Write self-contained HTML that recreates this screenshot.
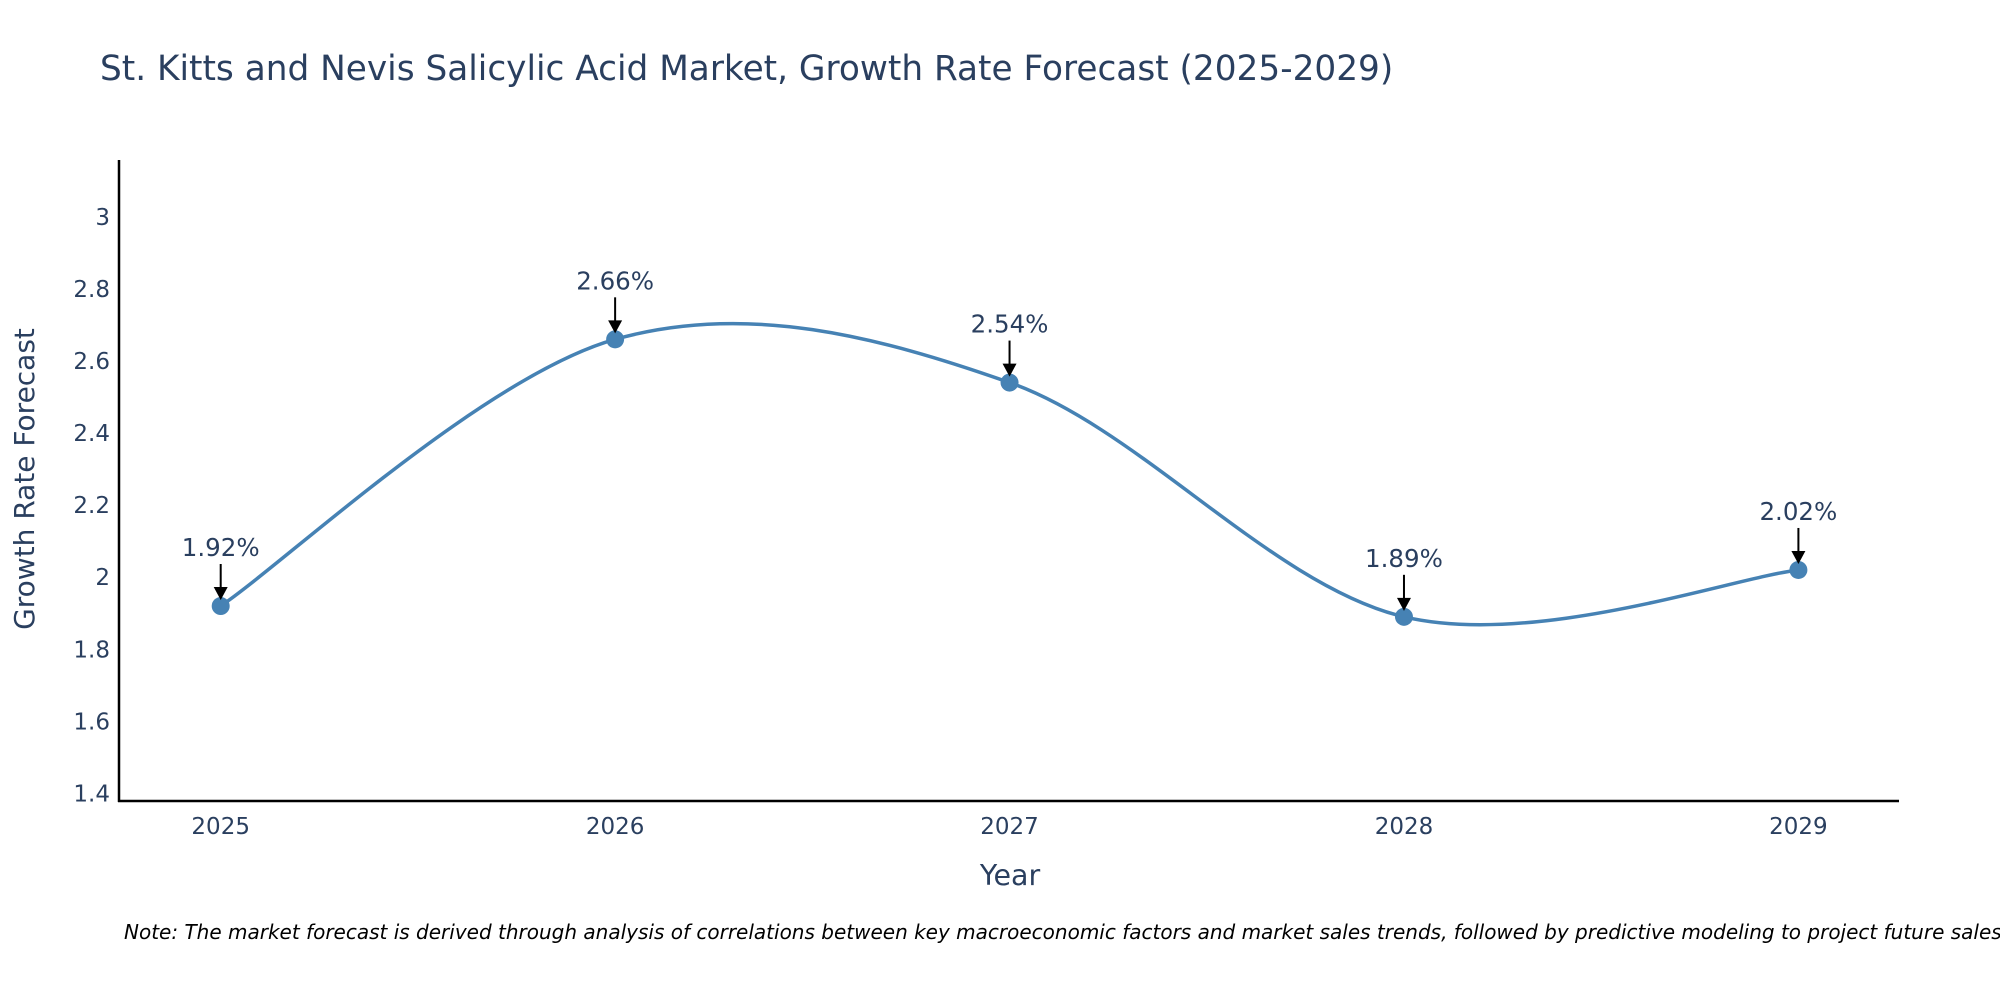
<!DOCTYPE html>
<html><head><meta charset="utf-8"><style>
body{margin:0;background:#fff;}
svg{display:block;font-family:"DejaVu Sans","Liberation Sans",sans-serif;}
</style></head><body>
<svg id="chart" width="2000" height="1000" viewBox="0 0 2000 1000">
<text x="100" y="80" font-size="34.3" fill="#2a3f5f">St. Kitts and Nevis Salicylic Acid Market, Growth Rate Forecast (2025-2029)</text>
<g id="yticks"></g>
<g id="xticks"></g>
<line x1="119" y1="160" x2="119" y2="802" stroke="#000" stroke-width="2.5"/>
<line x1="118" y1="801" x2="1899" y2="801" stroke="#000" stroke-width="2.5"/>
<path id="line" fill="none" stroke="#4682b4" stroke-width="3.5"/>
<g id="marks"></g>
<text x="1010" y="885" font-size="28.5" fill="#2a3f5f" text-anchor="middle">Year</text>
<text transform="translate(34,479) rotate(-90)" font-size="28" fill="#2a3f5f" text-anchor="middle">Growth Rate Forecast</text>
<text x="124" y="939" font-size="20" font-style="italic" fill="#000">Note: The market forecast is derived through analysis of correlations between key macroeconomic factors and market sales trends, followed by predictive modeling to project future sales.</text>
</svg>
<script>
const years=["2025","2026","2027","2028","2029"];
const values=[1.92,2.66,2.54,1.89,2.02];
const labels=["1.92%","2.66%","2.54%","1.89%","2.02%"];
const yTicks=[1.4,1.6,1.8,2,2.2,2.4,2.6,2.8,3];
const NS="http://www.w3.org/2000/svg";
function xs(i){return 220.7+i*(1798.4-220.7)/(years.length-1);}
function ys(v){return 793.4-(v-1.4)*(793.4-216.8)/1.6;}
function mk(tag,attrs,parent){const e=document.createElementNS(NS,tag);for(const k in attrs)e.setAttribute(k,attrs[k]);parent.appendChild(e);return e;}
const yt=document.getElementById('yticks');
yTicks.forEach(t=>{const e=mk('text',{x:110,y:ys(t)+8,'font-size':23,fill:'#2a3f5f','text-anchor':'end'},yt);


e.textContent=String(t);});
const xt=document.getElementById('xticks');
years.forEach((y,i)=>{const e=mk('text',{x:xs(i),y:834,'font-size':23,fill:'#2a3f5f','text-anchor':'middle'},xt);


e.textContent=y;});
const P=values.map((v,i)=>[xs(i),ys(v)]);
let d=`M${P[0][0]},${P[0][1]}`;const t=0.5;
for(let i=0;i<P.length-1;i++){const p0=P[Math.max(0,i-1)],p1=P[i],p2=P[i+1],p3=P[Math.min(P.length-1,i+2)];
const c1=[p1[0]+(p2[0]-p0[0])*t/3,p1[1]+(p2[1]-p0[1])*t/3];
const c2=[p2[0]-(p3[0]-p1[0])*t/3,p2[1]-(p3[1]-p1[1])*t/3];
d+=` C${c1[0]},${c1[1]} ${c2[0]},${c2[1]} ${p2[0]},${p2[1]}`;}
document.getElementById('line').setAttribute('d',d);
const g=document.getElementById('marks');
P.forEach((p,i)=>{
const c=mk('circle',{cx:p[0],cy:p[1],r:9,fill:'#4682b4'},g);


const l=mk('line',{x1:p[0],y1:p[1]-42,x2:p[0],y2:p[1]-18,stroke:'#000','stroke-width':2},g);


const a=mk('path',{d:`M${p[0]-7},${p[1]-19} L${p[0]+7},${p[1]-19} L${p[0]},${p[1]-6} Z`,fill:'#000'},g);


const tx=mk('text',{x:p[0],y:p[1]-50,'font-size':24.5,fill:'#2a3f5f','text-anchor':'middle'},g);


tx.textContent=labels[i];});
</script>
</body></html>
